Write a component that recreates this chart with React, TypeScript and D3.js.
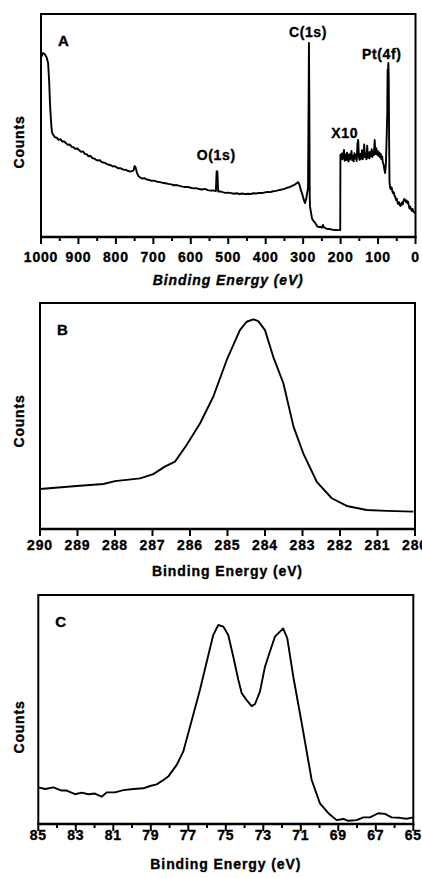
import React from "react";
import * as d3 from "d3";

// Panel A: survey spectrum (counts in arbitrary units, 0..100)
const aEnergy = [998,995,990,985,981,978,976,974,972,970,967,963,958,953,948,943,938,933,928,923,918,913,908,903,898,893,888,883,878,873,868,863,858,853,848,843,838,833,828,823,818,813,808,803,798,793,788,783,778,773,768,763,758,753,750,747,744,740,736,730,724,718,712,705,698,690,682,675,668,660,652,645,638,630,622,615,608,600,592,585,578,570,562,555,548,540,533,531,529,527,522,515,508,500,492,485,478,470,462,455,448,440,432,425,418,410,402,395,388,380,372,365,357,350,343,336,330,325,320,316,313,310,306,302,298,295,292,289,287,285.5,284.5,283.5,282.5,281.5,279.5,278,276.5,274,270,266,262,258,254,250,247,245,240,235,230,225,218,212,206,201,200.5,199,197,195,193,191,189,187,185,183,181,179,177,175,173,171,169,167,165,163,161,159,157,155,153,151,149,147,145,143,141,139,137,135,133,131,129,127,125,123,121,119,117,115,113,111,109,107,105,103,101,99,97,95,93,91,89,87,85,83,81,79,77,75.5,74.5,73.5,72.5,71.5,70.5,69.5,68,66,64,62,60,58,56,54,52,50,48,46,44,42,40,38,36,34,32,30,28,26,24,22,20,18,16,14,12,10,8,6,4,2,1];
const aCounts = [81,82.5,82,80.5,78,69,60,53.8,49,46.6,45.7,44.8,44.5,43.6,43.9,42.8,42.9,42,41.3,41.5,40.4,40.2,39.5,39.7,38.9,38.2,38.4,37.3,37.1,36.2,36.4,35.4,35.2,34.6,34.3,34.5,33.6,33.4,33.1,32.6,32.4,32.1,31.6,31.8,31.2,30.8,30.9,30.4,30.1,30.2,29.6,29.4,29.5,29.8,31.8,31,28.9,27.4,26.8,26.2,26.4,25.8,25.6,25.2,25.3,24.8,24.6,24.3,24.1,23.8,23.6,23.2,23.3,22.9,22.6,22.4,22.5,22.1,21.8,21.9,21.5,21.3,21.6,21,20.8,20.9,20.6,29.5,29.3,20.4,20.5,20.1,19.8,19.9,19.7,19.4,19.6,19.3,19.5,19.2,19.4,19.3,19.6,19.5,19.8,19.7,20,20.2,20.1,20.5,20.7,21,21.3,21.6,22.1,22.4,22.9,23.2,23.8,24.3,24.6,23.5,21,19,16.5,15.2,17,20,22,60,87,60,18,13.5,11.5,10,8.5,7.6,6.8,5.8,4.7,4.5,4.6,4.2,5.4,4.4,3.9,3.6,3.6,3.4,3.1,3.2,3.1,3.1,36.8,35,37.5,34.8,36.5,39,34.2,36.9,34.5,37.8,35.4,33.8,37.1,34.7,36.2,38.6,34.4,36.3,33.9,37.6,35.2,36.8,34.1,41.8,43.5,35.5,34.6,37.2,35.1,38.9,34.9,36.4,41.5,35.8,37.3,34.8,40.9,35.6,37.9,35.3,38.1,36.2,39.4,35.9,38.4,36.7,43.5,37.2,39.8,37,38.6,36.4,37.9,35.7,37.3,34.8,36.1,33.2,32.4,30.1,28.7,33,45,55,75,74,78,72,45,25,22.4,21.5,22.3,20.6,19.7,20.1,18.5,17.9,16.6,17.2,15.4,14.8,15.6,14.3,13.9,14.7,15.5,14.6,16.2,17.1,16.6,15.8,16.4,15.2,15.9,14.1,12.8,13.6,12.4,11.8,12.6,11.5,11.2,10.8,11.2];

// Panel B: C(1s)
const bEnergy = [290,289.02,288.31,288,287.33,286.98,286.67,286.4,286.09,285.73,285.38,285.02,284.67,284.49,284.31,284.18,284,283.78,283.51,283.24,282.98,282.62,282.22,281.82,281.29,280.75,280.04];
const bCounts = [17.7,19,19.9,21.2,22.4,24.3,27.6,29.8,37.2,46.8,58.5,74.8,88,91.7,92.8,92,88,76.2,64.5,45.3,33.5,20.9,13.6,10.2,8.4,8,7.7];

// Panel C: Pt(4f)
const cEnergy = [85,84.64,84.2,83.75,83.49,83.04,82.69,82.33,81.98,81.62,81.35,80.91,80.46,79.93,79.4,79.04,78.69,78.33,78.07,77.62,77.27,76.91,76.38,75.93,75.67,75.4,75.13,74.87,74.6,74.33,74.15,73.89,73.62,73.44,73.18,72.91,72.65,72.38,72.11,71.94,71.72,71.4,70.95,70.42,69.98,69.53,69.09,68.73,68.47,68.02,67.67,67.31,66.87,66.51,66.16,65.71,65.36,65];
const cCounts = [16,15.3,16,14.6,14.6,13,13.7,13,13.3,11.9,13.8,13.8,14.8,15.3,15.6,16.6,17.3,19.2,20.7,25.8,31.6,42.5,58.5,73.8,82.5,86.9,86.2,82.5,73,62.9,57.1,54.1,51.5,52.4,57.8,68.7,75.2,81.8,84,85.4,81.1,64.3,44,19.2,9,4.7,1.7,2.2,1.4,1.7,2.9,2.9,4.7,4.4,2.9,2.7,2.3,2.9];

const aMajorTicks = [1000,900,800,700,600,500,400,300,200,100,0];
const aMinorTicks = [950,850,750,650,550,450,350,250,150,50];
const bMajorTicks = [290,289,288,287,286,285,284,283,282,281,280];
const bMinorTicks: number[] = [];
const cMajorTicks = [85,83,81,79,77,75,73,71,69,67,65];
const cMinorTicks = [84,82,80,78,76,74,72,70,68,66];

const FONT = "'Liberation Sans', Arial, Helvetica, sans-serif";
const TXT = { fontFamily: FONT, fontWeight: "bold", stroke: "#000", strokeWidth: 0.35 } as const;

type Ann = { text: string; x: number; y: number };

function Panel(props: {
  energy: number[]; counts: number[]; domain: [number, number];
  left: number; right: number; top: number; bottom: number;
  major: number[]; minor: number[]; letter: string; italicTitle: boolean;
  tickY: number; titleY: number; countsY: number; anns: Ann[];
}) {
  const { energy, counts, domain, left, right, top, bottom, major, minor, letter, italicTitle, tickY, titleY, countsY, anns } = props;
  const x = d3.scaleLinear().domain(domain).range([left, right]);
  const y = d3.scaleLinear().domain([0, 100]).range([bottom, top]);
  const pts = energy.map((e, i) => [e, counts[i]] as [number, number]);
  const line = d3.line<[number, number]>().x(d => x(d[0])).y(d => y(d[1]));
  return (
    <g>
      <path d={line(pts) || ""} fill="none" stroke="#000" strokeWidth={1.9} strokeLinejoin="round" />
      <rect x={left} y={top} width={right - left} height={bottom - top} fill="none" stroke="#000" strokeWidth={2} />
      <line x1={left - 1} x2={right + 1} y1={bottom} y2={bottom} stroke="#000" strokeWidth={2.5} />
      {major.map(t => (
        <line key={"M" + t} x1={x(t)} x2={x(t)} y1={bottom} y2={bottom + 7} stroke="#000" strokeWidth={2} />
      ))}
      {minor.map(t => (
        <line key={"m" + t} x1={x(t)} x2={x(t)} y1={bottom} y2={bottom + 4} stroke="#000" strokeWidth={2} />
      ))}
      {major.map(t => (
        <text key={"L" + t} x={x(t)} y={tickY} textAnchor="middle" {...TXT} fontSize={14} letterSpacing={0.8}>{t}</text>
      ))}
      <text x={(left + right) / 2} y={titleY} textAnchor="middle" {...TXT} fontStyle={italicTitle ? "italic" : "normal"} fontSize={14} letterSpacing={0.9}>Binding Energy (eV)</text>
      <text transform={`translate(24,${countsY}) rotate(-90)`} textAnchor="middle" {...TXT} fontSize={14} letterSpacing={0.8}>Counts</text>
      <text x={left + 17} y={top + 32} {...TXT} fontSize={15}>{letter}</text>
      {anns.map(a => (
        <text key={a.text} x={x(a.x)} y={y(a.y)} textAnchor="middle" {...TXT} fontSize={14} letterSpacing={0.6}>{a.text}</text>
      ))}
    </g>
  );
}

export default function App() {
  return (
    <svg width={422} height={878} style={{ position: "absolute", left: 0, top: 0, background: "#fff" }}>
      <rect x={0} y={0} width={422} height={878} fill="#fff" />
      <Panel energy={aEnergy} counts={aCounts} domain={[1000, 0]} left={41} right={415.5} top={14} bottom={237}
        major={aMajorTicks} minor={aMinorTicks} letter="A" italicTitle={true} tickY={262} titleY={285} countsY={142}
        anns={[
          { text: "C(1s)", x: 287, y: 89.5 },
          { text: "Pt(4f)", x: 90, y: 80 },
          { text: "X10", x: 189, y: 44.5 },
          { text: "O(1s)", x: 532, y: 34.5 },
        ]} />
      <Panel energy={bEnergy} counts={bCounts} domain={[290, 280]} left={40} right={415} top={303} bottom={529}
        major={bMajorTicks} minor={bMinorTicks} letter="B" italicTitle={false} tickY={550} titleY={576} countsY={421}
        anns={[]} />
      <Panel energy={cEnergy} counts={cCounts} domain={[85, 65]} left={38.3} right={413.3} top={595} bottom={824}
        major={cMajorTicks} minor={cMinorTicks} letter="C" italicTitle={false} tickY={840} titleY={869} countsY={727}
        anns={[]} />
    </svg>
  );
}
